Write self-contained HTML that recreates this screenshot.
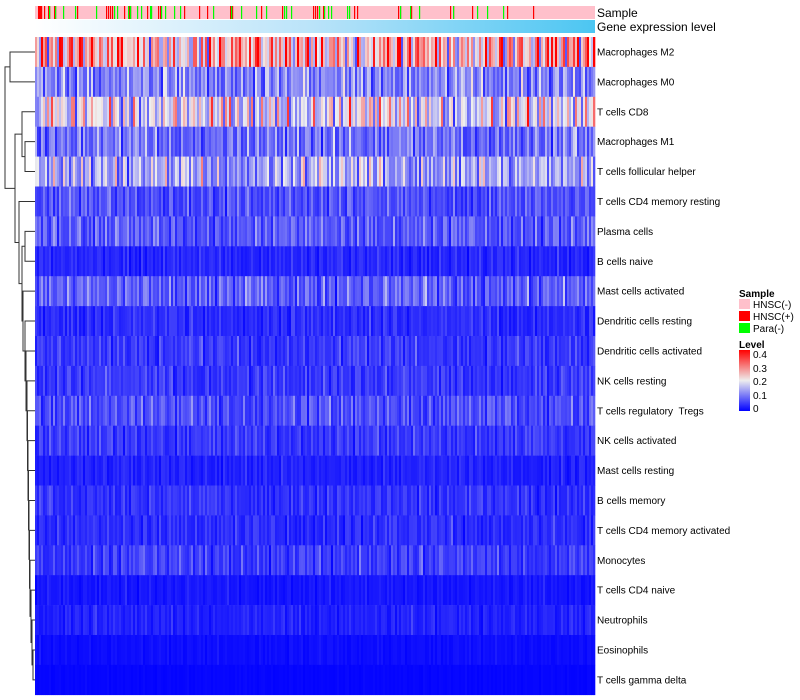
<!DOCTYPE html>
<html><head><meta charset="utf-8"><style>
body{margin:0;background:#fff;}
svg{display:block;font-family:"Liberation Sans",sans-serif;}
</style></head><body>
<svg id="chart" width="800" height="700">
<defs><linearGradient id="geneGrad" x1="0" x2="1" y1="0" y2="0"><stop offset="0" stop-color="#ffffff"/><stop offset="0.5" stop-color="#b9e3f9"/><stop offset="1" stop-color="#4cc6f2"/></linearGradient>
<linearGradient id="levelGrad" x1="0" x2="0" y1="1" y2="0"><stop offset="0" stop-color="#0000ff"/><stop offset="0.5" stop-color="#eeeeee"/><stop offset="1" stop-color="#ff0000"/></linearGradient></defs>
<g id="sampleBar"></g>
<rect x="35" y="20" width="560" height="13" fill="url(#geneGrad)"/>
<text x="597" y="17" font-size="12">Sample</text>
<text x="597" y="31" font-size="12">Gene expression level</text>
<g id="cells"></g>
<g id="rowLabels"></g>
<g id="dendro" stroke="#333" stroke-width="1" fill="none"></g>
<g font-size="10">
<text x="739" y="297" font-weight="bold">Sample</text>
<rect x="739" y="299" width="11" height="10" fill="#ffc0cb"/>
<text x="753" y="308">HNSC(-)</text>
<rect x="739" y="311" width="11" height="10" fill="#ff0000"/>
<text x="753" y="320">HNSC(+)</text>
<rect x="739" y="323" width="11" height="10" fill="#00ff00"/>
<text x="753" y="332">Para(-)</text>
<text x="739" y="348" font-weight="bold">Level</text>
<rect x="739" y="350" width="11" height="61" fill="url(#levelGrad)"/>
<text x="753" y="358">0.4</text>
<text x="753" y="372">0.3</text>
<text x="753" y="385">0.2</text>
<text x="753" y="399">0.1</text>
<text x="753" y="412">0</text>
</g>
</svg>
<script>
const rowNames=["Macrophages M2","Macrophages M0","T cells CD8","Macrophages M1","T cells follicular helper","T cells CD4 memory resting","Plasma cells","B cells naive","Mast cells activated","Dendritic cells resting","Dendritic cells activated","NK cells resting","T cells regulatory\u00a0\u00a0Tregs","NK cells activated","Mast cells resting","B cells memory","T cells CD4 memory activated","Monocytes","T cells CD4 naive","Neutrophils","Eosinophils","T cells gamma delta"];
const rowMeans=[0.27,0.12,0.2,0.1,0.15,0.07,0.08,0.035,0.085,0.04,0.05,0.05,0.07,0.05,0.03,0.045,0.04,0.055,0.02,0.03,0.012,0.005];
const colPattern=[1.0,0.4,1.6,0.8,0.2,1.3,0.9,0.5,1.9,1.1,0.3,0.7,1.4,0.6,1.0,2.2,0.4,0.8,1.2,0.1,1.5,0.9,0.6,1.7,0.3,1.1,0.8,1.3,0.5,0.2,1.8,1.0,0.7,1.4,0.4,0.9,1.2,0.6,1.5,0.85,0.35,1.25,0.95];
const hnscPosCols=[3,4,5,6,9,13,14,19,20,42,71,73,75,77,89,94,95,112,123,125,149,164,172,195,197,226,247,278,280,282,288,319,322,363,365,376,415,418,437,472,498];
const paraNegCols=[14,20,28,40,61,79,82,93,95,102,106,115,116,126,130,139,145,178,196,206,221,231,249,251,256,284,289,293,296,312,314,365,375,384,418,442,452,468];
const nCols=560;
const x0=35,y0=37,rowH=29.9,heatW=560;
const NS="http://www.w3.org/2000/svg";
function xScale(c){return x0+c*heatW/nCols;}
function yScale(r){return y0+r*rowH;}
function colorOf(v){v=Math.max(0,Math.min(0.4,v));
 if(v<=0.2){const t=v/0.2;return `rgb(${Math.round(238*t)},${Math.round(238*t)},${Math.round(255-17*t)})`;}
 const t=(v-0.2)/0.2;return `rgb(${Math.round(238+17*t)},${Math.round(238*(1-t))},${Math.round(238*(1-t))})`;}
const sampleG=document.getElementById('sampleBar');
const bg=document.createElementNS(NS,'rect');
bg.setAttribute('x',x0);bg.setAttribute('y',6);bg.setAttribute('width',heatW);bg.setAttribute('height',13);bg.setAttribute('fill','#ffc0cb');


sampleG.appendChild(bg);
function addSample(c,fill,name){const r=document.createElementNS(NS,'rect');
 r.setAttribute('x',xScale(c));r.setAttribute('y',6);r.setAttribute('width',heatW/nCols*1.2);r.setAttribute('height',13);r.setAttribute('fill',fill);
 
 
 sampleG.appendChild(r);}
hnscPosCols.forEach(c=>addSample(c,'#ff0000','sample-hnsc-pos'));
paraNegCols.forEach(c=>addSample(c,'#00ff00','sample-para-neg'));
const cellsG=document.getElementById('cells');
const cw=heatW/nCols;
const L=colPattern.length;
for(let r=0;r<rowNames.length;r++){
 for(let c=0;c<nCols;c+=2){
  const m=(colPattern[(c*7+r*13+Math.floor(c/5)*3)%L]+colPattern[(c*11+r*5+Math.floor(c/9))%L])/2;
  const v=rowMeans[r]*m;
  const rc=document.createElementNS(NS,'rect');
  rc.setAttribute('x',xScale(c));rc.setAttribute('y',yScale(r));rc.setAttribute('width',cw*2+0.3);rc.setAttribute('height',rowH+0.3);rc.setAttribute('fill',colorOf(v));
  
  
  cellsG.appendChild(rc);
 }
 const t=document.createElementNS(NS,'text');
 t.setAttribute('x',597);t.setAttribute('y',yScale(r)+rowH/2+3.5);t.setAttribute('font-size','10');t.textContent=rowNames[r];
 
 
 document.getElementById('rowLabels').appendChild(t);
}
const merges=[[-1,-2,10],[-4,-5,25],[-3,2,22],[-21,-22,33],[-20,4,32],[-19,5,31],[-18,6,30],[-17,7,29.5],[-16,8,29],[-15,9,28.5],[-14,10,28],[-13,11,27.5],[-12,12,27],[-11,13,26],[-10,14,25],[-7,-8,25],[-9,15,23],[16,17,22],[-6,18,19],[3,19,15],[1,20,5]];
const dg=document.getElementById('dendro');
const info=[];
function node(id){if(id<0){return {y:yScale(-id-1)+rowH/2,x:x0};}return info[id-1];}
merges.forEach(mg=>{const a=node(mg[0]),b=node(mg[1]),h=mg[2];
 const p=document.createElementNS(NS,'path');
 p.setAttribute('d',`M${a.x},${a.y}H${h}V${b.y}H${b.x}`);
 
 
 dg.appendChild(p);
 info.push({x:h,y:(a.y+b.y)/2});});
</script>
</body></html>
